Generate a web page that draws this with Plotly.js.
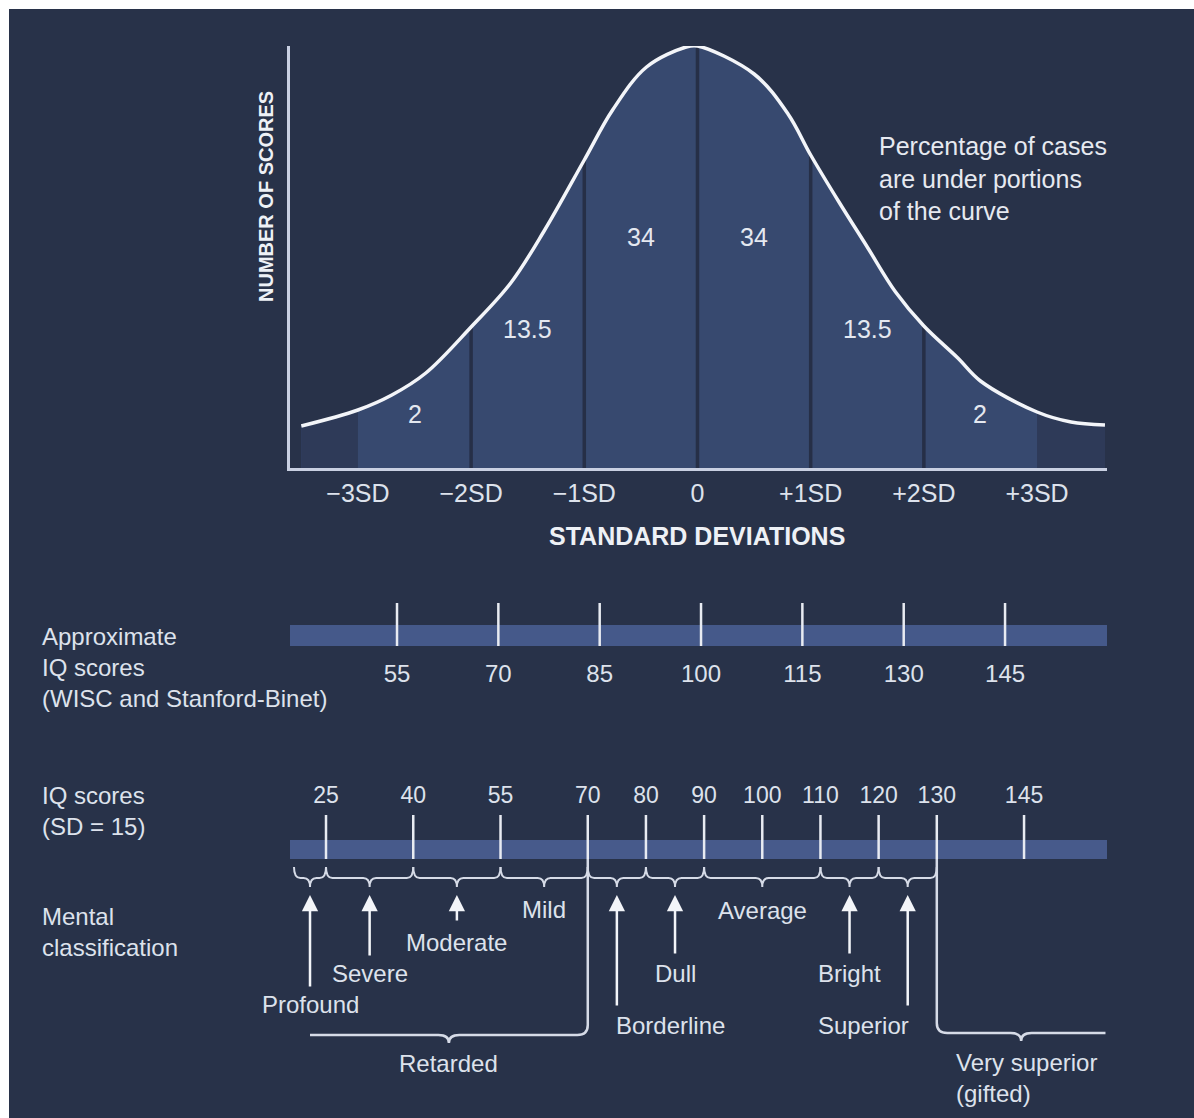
<!DOCTYPE html>
<html><head><meta charset="utf-8">
<script src="https://cdn.plot.ly/plotly-3.0.1.min.js"></script>
<style>html,body{margin:0;padding:0;background:#fff}</style>
</head><body>
<div id="chart" style="width:1194px;height:1118px"></div>
<script>
// ---------- data ----------
const sdTicks  = [-3, -2, -1, 0, 1, 2, 3];
const sdLabels = ['−3SD', '−2SD', '−1SD', '0', '+1SD', '+2SD', '+3SD'];
// normal curve as drawn (x in SD, relative height)
const curveX = [-3.5, -3, -2.7, -2.4, -2, -1.65, -1.35, -1, -0.75, -0.45, -0.1, 0, 0.5, 0.8, 1, 1.25, 1.5, 1.75, 2, 2.3, 2.5, 3, 3.3, 3.6];
const curveY = [42, 58, 73, 95, 141, 185, 238, 308, 358, 401, 421, 422, 394, 354, 313, 266, 221, 176, 142, 110, 87, 56, 46, 43];
const dividerX = [-2, -1, 0, 1, 2];
const pctX      = [-2.5, -1.5, -0.5, 0.5, 1.5, 2.5];
const pctLabels = ['2', '13.5', '34', '34', '13.5', '2'];
const approxIQ  = [55, 70, 85, 100, 115, 130, 145];
const iqTicks   = [25, 40, 55, 70, 80, 90, 100, 110, 120, 130, 145];
const classNames  = ['Profound', 'Severe', 'Moderate', 'Mild', 'Borderline', 'Dull', 'Average', 'Bright', 'Superior'];
const classBounds = [19.5, 25, 40, 55, 70, 80, 90, 110, 120, 130];
const retardedRange = [70];          // upper bound of "Retarded"
const superiorRange = [130, 159];    // "Very superior (gifted)"

// ---------- layout helpers (positions / styles) ----------
const W = 1194, H = 1118;
const px = v => v / W;
const py = v => 1 - v / H;
const BG = '#283249', TXT = '#dde2ec', LINE = '#c9d0e2', WHITE = '#f3f5f9';
const FONT = 'Liberation Sans, Arial, sans-serif';
const pctLabelY = [54, 139, 231, 231, 139, 54];
const classStyle = {
  Profound:   {tail: 988,  textY: 1005, anchor: 'center'},
  Severe:     {tail: 957,  textY: 973,  anchor: 'center'},
  Moderate:   {tail: 922,  textY: 942,  anchor: 'center'},
  Mild:       {tail: null, textY: 909,  anchor: 'center'},
  Borderline: {tail: 1007, textY: 1025, anchor: 'left'},
  Dull:       {tail: 955,  textY: 973,  anchor: 'center'},
  Average:    {tail: null, textY: 910,  anchor: 'center'},
  Bright:     {tail: 955,  textY: 973,  anchor: 'center'},
  Superior:   {tail: 1007, textY: 1025, anchor: 'right'}
};

// ---------- traces ----------
const traces = [];
traces.push({x: curveX, y: curveY, type: 'scatter', mode: 'lines', fill: 'tozeroy',
  fillcolor: '#37496f', line: {width: 0, shape: 'spline'}, hoverinfo: 'skip', xaxis: 'x', yaxis: 'y'});
const leftIdx = curveX.map((v, i) => i).filter(i => curveX[i] <= -3);
const rightIdx = curveX.map((v, i) => i).filter(i => curveX[i] >= 3);
[leftIdx, rightIdx].forEach(idx => traces.push({
  x: idx.map(i => curveX[i]), y: idx.map(i => curveY[i]), type: 'scatter', mode: 'lines',
  fill: 'tozeroy', fillcolor: '#2e3a58', line: {width: 0, shape: 'spline'}, hoverinfo: 'skip'}));
const dvx = [], dvy = [];
dividerX.forEach(d => { const h = curveY[curveX.indexOf(d)]; dvx.push(d, d, null); dvy.push(0, h, null); });
traces.push({x: dvx, y: dvy, type: 'scatter', mode: 'lines', line: {color: '#262f47', width: 3.5}, hoverinfo: 'skip'});
traces.push({x: curveX, y: curveY, type: 'scatter', mode: 'lines',
  line: {color: WHITE, width: 3.5, shape: 'spline', smoothing: 1}, hoverinfo: 'skip'});
// approximate IQ tick marks
const atx = [], aty = [];
approxIQ.forEach(v => { atx.push(v, v, null); aty.push(0, 1, null); });
traces.push({x: atx, y: aty, type: 'scatter', mode: 'lines', line: {color: '#e8ebf2', width: 2.5},
  xaxis: 'x2', yaxis: 'y2', hoverinfo: 'skip'});
// IQ (SD=15) tick marks
const itx = [], ity = [];
iqTicks.forEach(v => { itx.push(v, v, null); ity.push(0, 1, null); });
traces.push({x: itx, y: ity, type: 'scatter', mode: 'lines', line: {color: '#e8ebf2', width: 2.5},
  xaxis: 'x3', yaxis: 'y3', hoverinfo: 'skip'});

// ---------- shapes ----------
const shapes = [];
shapes.push({type: 'rect', xref: 'paper', yref: 'paper', x0: px(9), x1: 1, y0: 0, y1: py(9),
  fillcolor: BG, line: {width: 0}, layer: 'below'});
shapes.push({type: 'rect', xref: 'paper', yref: 'y2', x0: px(290), x1: px(1107), y0: 0, y1: 0.49,
  fillcolor: '#45598a', line: {width: 0}, layer: 'below'});
shapes.push({type: 'rect', xref: 'paper', yref: 'y3', x0: px(290), x1: px(1107), y0: 0, y1: 0.43,
  fillcolor: '#475a8b', line: {width: 0}, layer: 'below'});

function bracePath(a, b) {
  const m = (a + b) / 2, d = 1.1;
  const yTop = py(867), yL = py(878), yTip = py(887);
  return `M${a},${yTop} Q${a},${yL} ${a + d},${yL} L${m - d},${yL} Q${m},${yL} ${m},${yTip} ` +
         `Q${m},${yL} ${m + d},${yL} L${b - d},${yL} Q${b},${yL} ${b},${yTop}`;
}
for (let i = 0; i < classNames.length; i++) {
  shapes.push({type: 'path', xref: 'x3', yref: 'paper', path: bracePath(classBounds[i], classBounds[i + 1]),
    line: {color: '#d6dbe7', width: 2}});
}
const mids = classNames.map((n, i) => (classBounds[i] + classBounds[i + 1]) / 2);
// Retarded bracket
(function () {
  const a = retardedRange[0], b = mids[0], m = (a + b) / 2, d = 1.8;
  const yA = py(859), yB = py(1025), yH = py(1035), yT = py(1043);
  shapes.push({type: 'path', xref: 'x3', yref: 'paper', line: {color: '#d6dbe7', width: 2.5},
    path: `M${a},${yA} L${a},${yB} Q${a},${yH} ${a - d},${yH} L${m + d},${yH} Q${m},${yH} ${m},${yT} Q${m},${yH} ${m - d},${yH} L${b},${yH}`});
})();
// Very superior bracket
(function () {
  const a = superiorRange[0], b = superiorRange[1], m = (a + b) / 2, d = 1.8;
  const yA = py(859), yB = py(1023), yH = py(1033), yT = py(1041);
  shapes.push({type: 'path', xref: 'x3', yref: 'paper', line: {color: '#d6dbe7', width: 2.5},
    path: `M${a},${yA} L${a},${yB} Q${a},${yH} ${a + d},${yH} L${m - d},${yH} Q${m},${yH} ${m},${yT} Q${m},${yH} ${m + d},${yH} L${b},${yH}`});
})();

// ---------- annotations ----------
const ann = [];
const f = (s, c) => ({family: FONT, size: s, color: c || TXT});
const A = o => Object.assign({showarrow: false, xanchor: 'center', yanchor: 'middle'}, o);
pctX.forEach((x, i) => ann.push(A({xref: 'x', yref: 'y', x: x, y: pctLabelY[i], text: pctLabels[i],
  font: f(25, '#e4e8f0')})));
ann.push(A({xref: 'paper', yref: 'paper', x: px(877), y: py(178), xanchor: 'left', align: 'left',
  text: 'Percentage of cases<br>are under portions<br>of the curve', font: f(25, '#e6e9f0')}));
ann.push(A({xref: 'paper', yref: 'paper', x: px(266), y: py(197), textangle: -90,
  text: '<b>NUMBER OF SCORES</b>', font: f(20, '#eef1f6')}));
ann.push(A({xref: 'x', yref: 'paper', x: 0, y: py(536), text: '<b>STANDARD DEVIATIONS</b>',
  font: f(25, '#eef1f6')}));
ann.push(A({xref: 'paper', yref: 'paper', x: px(40), y: py(667), xanchor: 'left', align: 'left',
  text: 'Approximate<br>IQ scores<br>(WISC and Stanford-Binet)', font: f(24)}));
ann.push(A({xref: 'paper', yref: 'paper', x: px(40), y: py(811), xanchor: 'left', align: 'left',
  text: 'IQ scores<br>(SD = 15)', font: f(24)}));
ann.push(A({xref: 'paper', yref: 'paper', x: px(40), y: py(932), xanchor: 'left', align: 'left',
  text: 'Mental<br>classification', font: f(24)}));

classNames.forEach((n, i) => {
  const s = classStyle[n], m = mids[i];
  if (s.tail !== null) {
    ann.push({xref: 'x3', yref: 'paper', x: m, y: py(895), ax: 0, ay: s.tail - 895, text: '',
      showarrow: true, arrowhead: 2, arrowsize: 1.3, arrowwidth: 2.5, arrowcolor: WHITE, standoff: 0});
  }
  let x = m;
  if (s.anchor === 'left') x = m - 0.5;
  if (s.anchor === 'right') x = m + 0.5;
  ann.push(A({xref: 'x3', yref: 'paper', x: x, y: py(s.textY), xanchor: s.anchor, text: n, font: f(24)}));
});
ann.push(A({xref: 'x3', yref: 'paper', x: (retardedRange[0] + mids[0]) / 2, y: py(1063), text: 'Retarded',
  font: f(24)}));
ann.push(A({xref: 'x3', yref: 'paper', x: superiorRange[0] + 3, y: py(1078), xanchor: 'left', align: 'left',
  text: 'Very superior<br>(gifted)', font: f(24)}));

// ---------- layout ----------
const noGrid = {showgrid: false, zeroline: false, fixedrange: true};
const layout = {
  width: W, height: H, margin: {l: 0, r: 0, t: 0, b: 0},
  paper_bgcolor: '#ffffff', plot_bgcolor: 'rgba(0,0,0,0)', showlegend: false,
  font: {family: FONT, color: TXT},
  xaxis: Object.assign({}, noGrid, {domain: [px(290), px(1107)], range: [-3.6, 3.618], anchor: 'y',
    showline: true, linecolor: LINE, linewidth: 3, tickvals: sdTicks, ticktext: sdLabels,
    ticks: 'outside', ticklen: 1, tickcolor: 'rgba(0,0,0,0)', tickfont: f(25)}),
  yaxis: Object.assign({}, noGrid, {domain: [py(468), py(46)], range: [0, 422], anchor: 'x',
    showline: true, linecolor: LINE, linewidth: 3, showticklabels: false, ticks: ''}),
  xaxis2: Object.assign({}, noGrid, {domain: [px(290), px(1107)], range: [39.16, 160.09], anchor: 'y2',
    showline: false, tickvals: approxIQ, ticks: 'outside', ticklen: 6, tickcolor: 'rgba(0,0,0,0)', tickfont: f(24)}),
  yaxis2: Object.assign({}, noGrid, {domain: [py(646), py(603)], range: [0, 1], anchor: 'x2', visible: false}),
  xaxis3: Object.assign({}, noGrid, {domain: [px(290), px(1107)], range: [18.81, 159.26], anchor: 'y3', side: 'top',
    showline: false, tickvals: iqTicks, ticks: 'outside', ticklen: 2, tickcolor: 'rgba(0,0,0,0)', tickfont: f(23)}),
  yaxis3: Object.assign({}, noGrid, {domain: [py(859), py(815)], range: [0, 1], anchor: 'x3', visible: false}),
  shapes: shapes, annotations: ann
};
Plotly.newPlot('chart', traces, layout, {displayModeBar: false, staticPlot: true});
</script>
</body></html>
